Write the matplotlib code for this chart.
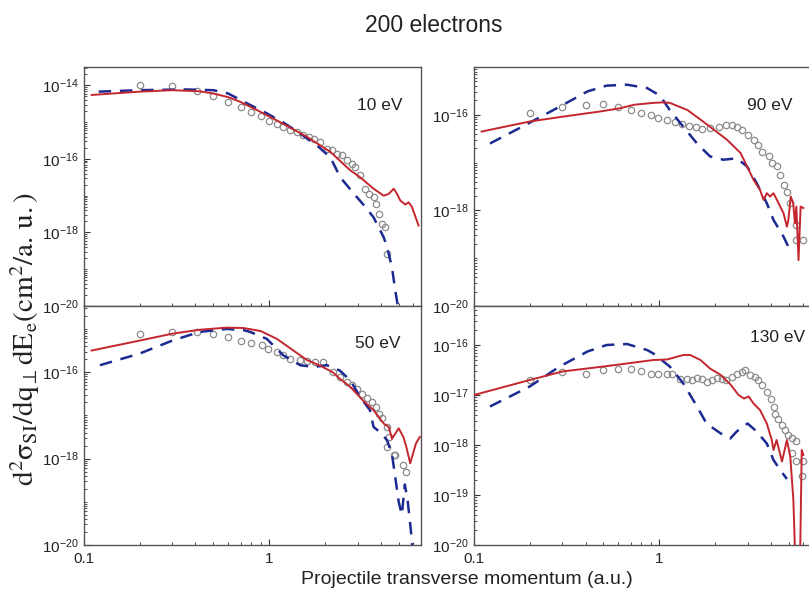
import numpy as np
import matplotlib
matplotlib.use("Agg")
import matplotlib.pyplot as plt
from matplotlib.ticker import FixedLocator, FuncFormatter, NullFormatter

plt.rcParams['font.family'] = ['Liberation Sans', 'DejaVu Sans']
plt.rcParams['mathtext.fontset'] = 'custom'
plt.rcParams['mathtext.rm'] = 'Liberation Sans'
plt.rcParams['mathtext.it'] = 'Liberation Sans:italic'
plt.rcParams['mathtext.bf'] = 'Liberation Sans:bold'

# y values stored as log10 of the cross section
# ---- 10 eV ----
red_10_x = [0.11, 0.2, 0.3, 0.42, 0.5, 0.6, 0.7, 0.85, 1.05, 1.3, 1.6, 2.14, 2.74, 3.1, 3.66, 4.15,
            4.42, 4.7, 4.9, 5.1, 5.43, 5.66, 5.9, 6.4]
red_10_y = [-14.26, -14.17, -14.13, -14.16, -14.22, -14.32, -14.45, -14.66, -14.9, -15.15, -15.4, -15.81,
            -16.31, -16.5, -16.81, -17.0, -16.95, -16.81, -16.95, -17.13, -17.24, -17.18, -17.31, -17.81]
blue_10_x = [0.12, 0.2, 0.35, 0.5, 0.6, 0.76, 0.97, 1.2, 1.47, 1.8, 2.14, 2.42, 2.87, 3.3, 3.66, 4.15,
             4.33, 4.6, 4.8, 4.95]
blue_10_y = [-14.17, -14.13, -14.11, -14.13, -14.22, -14.49, -14.76, -15.02, -15.31, -15.62, -15.96,
             -16.5, -16.95, -17.3, -17.59, -18.13, -18.4, -18.95, -19.6, -20.0]
exp_10_x = [0.2, 0.3, 0.41, 0.5, 0.6, 0.7, 0.8, 0.9, 1.0, 1.1, 1.19, 1.3, 1.41, 1.53, 1.63, 1.74, 1.88,
            2.05, 2.18, 2.32, 2.47, 2.63, 2.79, 2.9, 3.1, 3.3, 3.45, 3.66, 3.75, 3.9, 4.05, 4.2, 4.33]
exp_10_y = [-13.99, -14.02, -14.14, -14.29, -14.45, -14.58, -14.72, -14.84, -14.97, -15.06, -15.13,
            -15.22, -15.27, -15.36, -15.4, -15.45, -15.54, -15.72, -15.77, -15.86, -15.9, -16.04, -16.13,
            -16.22, -16.45, -16.81, -16.95, -17.04, -17.22, -17.49, -17.77, -17.86, -18.59]

# ---- 90 eV ----
red_90_x = [0.11, 0.2, 0.3, 0.48, 0.62, 0.73, 0.93, 1.05, 1.14, 1.42, 1.67, 1.97, 2.32, 2.75, 2.98,
            3.23, 3.5, 3.66, 3.81, 3.97, 4.14, 4.32, 4.5, 4.69, 4.89, 4.98, 5.13, 5.29, 5.4, 5.5, 5.65,
            5.8, 6.0]
red_90_y = [-16.35, -16.14, -16.04, -15.93, -15.86, -15.79, -15.75, -15.74, -15.75, -15.9, -16.1,
            -16.31, -16.52, -16.8, -17.08, -17.36, -17.57, -17.78, -17.64, -17.71, -17.64, -17.78,
            -17.92, -18.06, -18.34, -18.2, -17.71, -17.85, -18.27, -17.92, -19.04, -17.92, -17.95]
blue_90_x = [0.122, 0.19, 0.29, 0.41, 0.52, 0.67, 0.86, 1.01, 1.14, 1.35, 1.6, 1.88, 2.22, 2.62, 2.98,
             3.36, 3.81, 4.14, 4.69, 4.98]
blue_90_y = [-16.6, -16.21, -15.83, -15.51, -15.39, -15.37, -15.44, -15.6, -15.9, -16.25, -16.6,
             -16.87, -16.94, -16.91, -17.08, -17.43, -17.85, -18.2, -18.55, -18.76]
exp_90_x = [0.2, 0.3, 0.4, 0.5, 0.6, 0.7, 0.8, 0.9, 0.99, 1.1, 1.22, 1.33, 1.44, 1.57, 1.7, 1.88, 2.09,
            2.28, 2.47, 2.62, 2.8, 3.0, 3.23, 3.4, 3.6, 3.9, 4.05, 4.3, 4.5, 4.69, 4.89, 5.1, 5.5, 5.5,
            6.0]
exp_90_y = [-15.96, -15.84, -15.79, -15.77, -15.83, -15.9, -15.96, -16.0, -16.07, -16.1, -16.14,
            -16.19, -16.23, -16.26, -16.29, -16.27, -16.25, -16.22, -16.22, -16.26, -16.31, -16.42,
            -16.52, -16.63, -16.77, -16.87, -17.01, -17.08, -17.26, -17.47, -17.61, -17.85, -18.3,
            -18.62, -18.62]

# ---- 50 eV ----
red_50_x = [0.11, 0.2, 0.3, 0.42, 0.59, 0.73, 0.9, 1.1, 1.35, 1.6, 1.88, 2.2, 2.4, 2.74, 3.2, 3.66,
            4.15, 4.42, 4.6, 4.8, 5.0, 5.3, 5.5, 5.77, 5.98, 6.2, 6.5]
red_50_y = [-15.5, -15.27, -15.11, -15.02, -14.97, -14.98, -15.05, -15.23, -15.5, -15.72, -15.85,
            -16.0, -16.15, -16.34, -16.65, -16.88, -17.19, -17.27, -17.54, -17.42, -17.3, -17.5,
            -17.73, -18.11, -17.88, -17.65, -17.5]
blue_50_x = [0.122, 0.2, 0.3, 0.42, 0.59, 0.73, 0.79, 0.97, 1.19, 1.47, 1.74, 2.05, 2.4, 2.74, 3.1,
             3.5, 3.66, 4.05, 4.33, 4.6, 4.8, 5.0, 5.2, 5.4, 5.6, 5.8, 6.0]
blue_50_y = [-15.84, -15.57, -15.27, -15.07, -15.0, -15.03, -15.07, -15.23, -15.61, -15.84, -15.88,
             -15.84, -15.96, -16.19, -16.58, -16.88, -17.27, -17.42, -17.58, -17.9, -18.45, -19.0,
             -19.3, -18.6, -19.0, -19.6, -20.3]
exp_50_x = [0.2, 0.3, 0.41, 0.5, 0.6, 0.7, 0.8, 0.91, 0.99, 1.1, 1.19, 1.3, 1.47, 1.6, 1.77, 1.95, 2.2,
            2.4, 2.63, 2.8, 2.97, 3.17, 3.36, 3.57, 3.75, 3.9, 4.05, 4.33, 4.42, 4.33, 4.7, 4.8, 5.3, 5.5]
exp_50_y = [-15.11, -15.06, -15.07, -15.11, -15.19, -15.27, -15.33, -15.38, -15.46, -15.54, -15.61,
            -15.69, -15.73, -15.74, -15.77, -15.77, -16.0, -16.11, -16.23, -16.3, -16.38, -16.5,
            -16.61, -16.69, -16.81, -16.96, -17.07, -17.27, -17.5, -17.73, -17.92, -17.92, -18.15,
            -18.31]

# ---- 130 eV ----
red_130_x = [0.1, 0.2, 0.3, 0.5, 0.67, 0.93, 1.1, 1.35, 1.47, 1.67, 1.88, 2.15, 2.44, 2.68, 2.87, 3.04,
             3.23, 3.5, 3.81, 4.05, 4.14, 4.3, 4.6, 4.89, 5.1, 5.3, 5.45, 5.75, 5.88, 6.0]
red_130_y = [-17.0, -16.7, -16.53, -16.43, -16.37, -16.3, -16.29, -16.2, -16.2, -16.3, -16.47, -16.6,
             -16.8, -17.0, -17.07, -17.03, -17.17, -17.3, -17.57, -17.9, -18.1, -17.9, -18.33, -17.9,
             -18.23, -19.1, -20.5, -20.5, -18.1, -18.2]
blue_130_x = [0.122, 0.2, 0.29, 0.41, 0.52, 0.67, 0.86, 0.93, 1.14, 1.35, 1.6, 1.8, 2.15, 2.42, 2.62,
              3.0, 3.36, 3.81, 4.14, 4.5, 4.89]
blue_130_y = [-17.23, -16.83, -16.43, -16.13, -16.0, -15.98, -16.1, -16.17, -16.43, -16.77, -17.23,
              -17.57, -17.77, -17.87, -17.73, -17.57, -17.73, -17.97, -18.3, -18.5, -18.68]
exp_130_x = [0.2, 0.3, 0.4, 0.5, 0.6, 0.7, 0.8, 0.9, 0.99, 1.1, 1.17, 1.3, 1.41, 1.5, 1.6, 1.7, 1.8,
             1.93, 2.05, 2.17, 2.3, 2.46, 2.62, 2.8, 2.9, 3.1, 3.3, 3.4, 3.6, 3.81, 4.0, 4.14, 4.2, 4.4,
             4.6, 4.8, 4.98, 5.2, 5.5, 5.2, 5.5, 6.0, 5.9]
exp_130_y = [-16.69, -16.53, -16.57, -16.49, -16.47, -16.47, -16.52, -16.57, -16.57, -16.57, -16.57,
             -16.67, -16.67, -16.69, -16.65, -16.67, -16.73, -16.7, -16.65, -16.67, -16.7, -16.63,
             -16.58, -16.53, -16.5, -16.6, -16.63, -16.7, -16.8, -16.93, -17.07, -17.23, -17.37,
             -17.47, -17.6, -17.7, -17.8, -17.87, -17.93, -18.17, -18.33, -18.33, -18.63]

panel_labels = ["10 eV", "90 eV", "50 eV", "130 eV"]
# axis ranges as log10 exponents
ylims = [(-20, -13.5), (-20, -15), (-20, -14.47), (-20, -15.22)]
ytick_step = [2, 2, 2, 1]

RED = '#c4262e'
BLUE = '#1c2a92'
GRAY = '#8c8c8c'

fig = plt.figure(figsize=(8.09, 5.92), dpi=100)

w, h = 0.4166, 0.4037
positions = [
    [0.1038, 0.4831, w, h],
    [0.5859, 0.4831, w, h],
    [0.1038, 0.0794, w, h],
    [0.5859, 0.0794, w, h],
]

series = [
    (red_10_x, red_10_y, blue_10_x, blue_10_y, exp_10_x, exp_10_y),
    (red_90_x, red_90_y, blue_90_x, blue_90_y, exp_90_x, exp_90_y),
    (red_50_x, red_50_y, blue_50_x, blue_50_y, exp_50_x, exp_50_y),
    (red_130_x, red_130_y, blue_130_x, blue_130_y, exp_130_x, exp_130_y),
]
label_pos = [(0.878, 0.84), (0.878, 0.84), (0.872, 0.845), (0.902, 0.87)]


def pow_label(v, pos):
    e = int(round(np.log10(v)))
    return r'$\mathregular{10^{%d}}$' % e


for i, (pos, data) in enumerate(zip(positions, series)):
    ax = fig.add_axes(pos)
    rx, ry, bx, by, ex, ey = data
    ax.plot(ex, 10 ** np.array(ey), 'o', mfc='none', mec=GRAY, ms=4.6, mew=0.9, zorder=2)
    ax.plot(bx, 10 ** np.array(by), '--', color=BLUE, lw=1.8, dashes=(5, 3.5), zorder=3)
    ax.plot(rx, 10 ** np.array(ry), '-', color=RED, lw=1.4, zorder=4)
    ax.set_xscale('log')
    ax.set_yscale('log')
    ax.set_xlim(0.1, 6.6)
    lo, hi = ylims[i]
    ax.set_ylim(10 ** lo, 10 ** hi)

    ax.xaxis.set_major_locator(FixedLocator([0.1, 1]))
    ax.xaxis.set_minor_locator(FixedLocator([0.2, 0.3, 0.4, 0.5, 0.6, 0.7, 0.8, 0.9, 2, 3, 4, 5, 6]))
    ax.xaxis.set_minor_formatter(NullFormatter())
    if i < 2:
        ax.xaxis.set_major_formatter(NullFormatter())
    else:
        ax.xaxis.set_major_formatter(FuncFormatter(lambda v, p: '0.1' if v < 0.5 else '1'))

    majors = [10.0 ** e for e in range(lo, int(np.floor(hi)) + 1, ytick_step[i])]
    minors = [m * 10.0 ** e for e in range(lo, int(np.floor(hi)) + 1) for m in range(1, 10)
              if m * 10.0 ** e <= 10 ** hi and 10.0 ** e * m not in majors]
    ax.yaxis.set_major_locator(FixedLocator(majors))
    ax.yaxis.set_major_formatter(FuncFormatter(pow_label))
    ax.yaxis.set_minor_locator(FixedLocator(minors))
    ax.yaxis.set_minor_formatter(NullFormatter())

    ax.tick_params(which='both', direction='in', labelsize=11, colors='#333333', labelcolor='#222222')
    ax.tick_params(which='major', length=4, width=0.8)
    ax.tick_params(which='minor', length=2, width=0.6)
    ax.tick_params(axis='x', pad=5)
    for s in ax.spines.values():
        s.set_color('#555555')
        s.set_linewidth(1.0)

    ax.text(label_pos[i][0], label_pos[i][1], panel_labels[i], transform=ax.transAxes,
            ha='center', va='center', fontsize=12.5, color='#222222')

fig.text(0.536, 0.957, '200 electrons', ha='center', va='center', fontsize=16.5, color='#222222')
fig.text(0.577, 0.021, 'Projectile transverse momentum (a.u.)', ha='center', va='center',
         fontsize=14, color='#222222')
fig.text(0.031, 0.427, r'$\mathrm{d^2\sigma_{SI}/dq_{\perp}dE_e(cm^2/a.\,u.)}$', rotation=90,
         ha='center', va='center', fontsize=21, color='#222222', math_fontfamily='stix')

fig.savefig('out.png', dpi=100)
